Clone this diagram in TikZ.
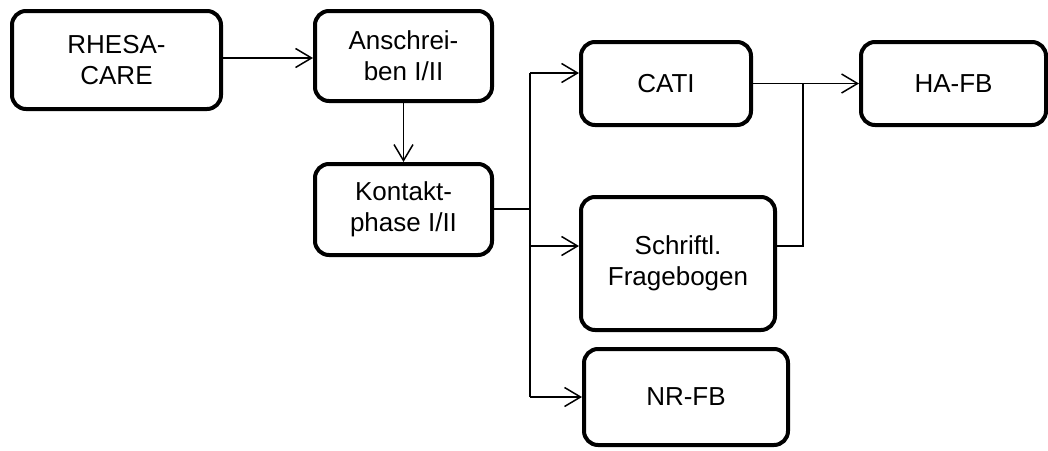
\documentclass[tikz,border=0pt]{standalone}
\usepackage{fontspec}
\setmainfont{Liberation Sans}
\usetikzlibrary{arrows.meta}
\begin{document}
\begin{tikzpicture}[x=1pt,y=-1pt,
  box/.style={draw=black, line width=4pt, rounded corners=14pt, fill=white,
    align=center, inner sep=0pt, font=\fontsize{26}{31}\selectfont},
  conn/.style={draw=black, line width=1.5pt},
  arr/.style={conn, -{Straight Barb[length=16pt,width=19pt,line width=1.5pt]}}]
\useasboundingbox (0,0) rectangle (1048,450);
\node[box, minimum width=209pt, minimum height=98pt] (rhesa) at (116.5,60) {RHESA-\\CARE};
\node[box, minimum width=177pt, minimum height=90pt] (ansch) at (403.5,56) {Anschrei-\\ben I/II};
\node[box, minimum width=177pt, minimum height=91pt] (kontakt) at (403.5,209.5) {Kontakt-\\phase I/II};
\node[box, minimum width=170pt, minimum height=83pt] (cati) at (666,83.5) {CATI};
\node[box, minimum width=185pt, minimum height=83pt] (hafb) at (953.5,83.5) {HA-FB};
\node[box, minimum width=194pt, minimum height=133pt] (schr) at (678,263.5) {Schriftl.\\Fragebogen};
\node[box, minimum width=204pt, minimum height=96pt] (nrfb) at (686,397) {NR-FB};
\coordinate (b) at (530,209);
\coordinate (bt) at (530,73);
\coordinate (bs) at (530,246);
\coordinate (bn) at (530,397);
\coordinate (j) at (803,83.5);
\coordinate (js) at (803,246);
\draw[arr] (rhesa.east |- 0,58) -- (ansch.west |- 0,58);
\draw[arr] (ansch.south) -- (kontakt.north);
\draw[conn] (kontakt.east |- b) -- (b);
\draw[conn] (bt) -- (bn);
\draw[arr] (bt) -- (bt -| cati.west);
\draw[arr] (bs) -- (bs -| schr.west);
\draw[arr] (bn) -- (nrfb.west);
\draw[arr] (cati.east) -- (hafb.west);
\draw[conn] (schr.east |- js) -- (js) -- (j);
\end{tikzpicture}
\end{document}
